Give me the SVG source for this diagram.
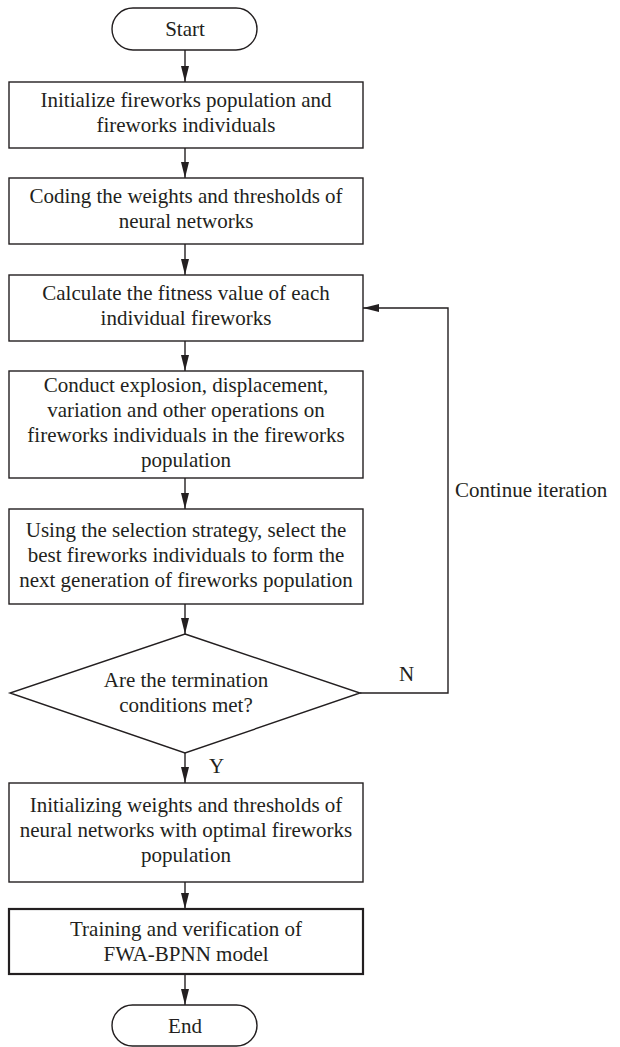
<svg xmlns="http://www.w3.org/2000/svg" width="620" height="1047" viewBox="0 0 620 1047">
<defs>
<marker id="ah" viewBox="0 0 16 8" refX="16" refY="4" markerWidth="16" markerHeight="8" markerUnits="userSpaceOnUse" orient="auto">
<path d="M0,0 L16,4 L0,8 z" fill="#231f20"/>
</marker>
<style>
.n{fill:#fff;stroke:#231f20;stroke-width:1.4}
.b{stroke-width:2.2}
.t{font-family:"Liberation Serif","Times New Roman",serif;font-size:21px;fill:#231f20;text-anchor:middle}
.l{font-family:"Liberation Serif","Times New Roman",serif;font-size:21px;fill:#231f20}
.c{fill:none;stroke:#231f20;stroke-width:1.4}
</style>
</defs>
<rect width="620" height="1047" fill="#fff"/>
<g id="connectors">
<line class="c" x1="185" y1="50" x2="185" y2="82" marker-end="url(#ah)"/>
<line class="c" x1="185" y1="148" x2="185" y2="178" marker-end="url(#ah)"/>
<line class="c" x1="185" y1="244" x2="185" y2="275" marker-end="url(#ah)"/>
<line class="c" x1="185" y1="341" x2="185" y2="371" marker-end="url(#ah)"/>
<line class="c" x1="185" y1="478" x2="185" y2="509" marker-end="url(#ah)"/>
<line class="c" x1="185" y1="604" x2="185" y2="634" marker-end="url(#ah)"/>
<line class="c" x1="185" y1="753" x2="185" y2="783" marker-end="url(#ah)"/>
<line class="c" x1="185" y1="882" x2="185" y2="909" marker-end="url(#ah)"/>
<line class="c" x1="185" y1="974" x2="185" y2="1005" marker-end="url(#ah)"/>
<polyline class="c" points="360,693 448,693 448,308 363,308" marker-end="url(#ah)"/>
<text class="l" x="399" y="681">N</text>
<text class="l" x="209" y="773">Y</text>
<text class="l" x="455" y="497">Continue iteration</text>
</g>
<g id="start">
<rect class="n" x="112" y="8" width="145" height="42" rx="21"/>
<text class="t" x="185" y="36">Start</text>
</g>
<g id="init">
<rect class="n" x="9" y="82" width="354" height="66"/>
<text class="t" x="186" y="107">Initialize fireworks population and</text>
<text class="t" x="186" y="132">fireworks individuals</text>
</g>
<g id="coding">
<rect class="n" x="9" y="178" width="354" height="66"/>
<text class="t" x="186" y="203">Coding the weights and thresholds of</text>
<text class="t" x="186" y="228">neural networks</text>
</g>
<g id="fitness">
<rect class="n" x="9" y="275" width="354" height="66"/>
<text class="t" x="186" y="300">Calculate the fitness value of each</text>
<text class="t" x="186" y="325">individual fireworks</text>
</g>
<g id="explosion">
<rect class="n" x="9" y="371" width="354" height="107"/>
<text class="t" x="186" y="392">Conduct explosion, displacement,</text>
<text class="t" x="186" y="417">variation and other operations on</text>
<text class="t" x="186" y="442">fireworks individuals in the fireworks</text>
<text class="t" x="186" y="467">population</text>
</g>
<g id="selection">
<rect class="n" x="9" y="509" width="354" height="95"/>
<text class="t" x="186" y="537">Using the selection strategy, select the</text>
<text class="t" x="186" y="562">best fireworks individuals to form the</text>
<text class="t" x="186" y="587">next generation of fireworks population</text>
</g>
<g id="decision">
<polygon class="n" points="185,634 360,693 185,753 10,693"/>
<text class="t" x="186" y="687">Are the termination</text>
<text class="t" x="186" y="712">conditions met?</text>
</g>
<g id="initweights">
<rect class="n" x="9" y="783" width="354" height="99"/>
<text class="t" x="186" y="812">Initializing weights and thresholds of</text>
<text class="t" x="186" y="837">neural networks with optimal fireworks</text>
<text class="t" x="186" y="862">population</text>
</g>
<g id="training">
<rect class="n b" x="9" y="909" width="354" height="65"/>
<text class="t" x="186" y="936">Training and verification of</text>
<text class="t" x="186" y="961">FWA-BPNN model</text>
</g>
<g id="end">
<rect class="n" x="112" y="1005" width="145" height="41" rx="20.5"/>
<text class="t" x="185" y="1033">End</text>
</g>
</svg>
